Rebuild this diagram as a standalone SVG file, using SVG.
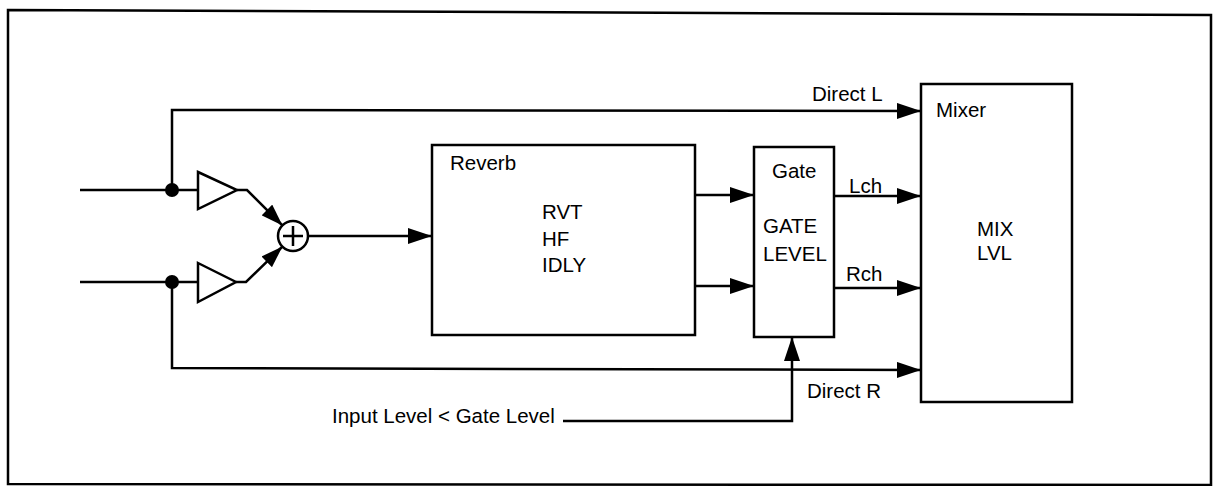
<svg xmlns="http://www.w3.org/2000/svg" width="1214" height="486" viewBox="0 0 1214 486">
<style>
.ln{fill:none;stroke:#000;stroke-width:2.5}
.bx{fill:#fff;stroke:#000;stroke-width:2.5}
.t{font-family:"Liberation Sans",Arial,sans-serif;font-size:20.5px;fill:#000}
</style>
<defs>
<marker id="ah" markerUnits="userSpaceOnUse" markerWidth="24" markerHeight="16" refX="24" refY="8" orient="auto">
<path d="M0,0 L24,8 L0,16 z" fill="#000"/>
</marker>
<marker id="ahs" markerUnits="userSpaceOnUse" markerWidth="22" markerHeight="15" refX="22" refY="7.5" orient="auto">
<path d="M0,0 L22,7.5 L0,15 z" fill="#000"/>
</marker>
</defs>
<rect width="1214" height="486" fill="#fff"/>
<path class="ln" d="M8,10 L1211,15 L1211,485 L8,484 Z"/>

<g id="connectors">
<path class="ln" d="M80,190 L198,190"/>
<path class="ln" d="M80,282 L198,282"/>
<path class="ln" d="M172,190 L172,110 L921,111" marker-end="url(#ah)"/>
<path class="ln" d="M172,282 L172,368 L921,370" marker-end="url(#ah)"/>
<path class="ln" d="M237,190 L247,190 L282.5,225.5" marker-end="url(#ahs)"/>
<path class="ln" d="M236,282 L246,282 L282.5,246.5" marker-end="url(#ahs)"/>
<path class="ln" d="M308,236 L432,236" marker-end="url(#ah)"/>
<path class="ln" d="M695,195 L754,195" marker-end="url(#ah)"/>
<path class="ln" d="M695,286 L754,286" marker-end="url(#ah)"/>
<path class="ln" d="M834,196 L921,196" marker-end="url(#ah)"/>
<path class="ln" d="M834,288 L921,288" marker-end="url(#ah)"/>
<path class="ln" d="M563,421 L792,421 L792,337" marker-end="url(#ah)"/>
<circle cx="172" cy="190" r="7" fill="#000"/>
<circle cx="172" cy="282" r="7" fill="#000"/>
</g>

<g id="amp1"><path class="bx" d="M198,172 L237,190 L198,209 Z"/></g>
<g id="amp2"><path class="bx" d="M198,263 L236,282 L198,302 Z"/></g>
<g id="sum">
<circle class="bx" cx="293" cy="236" r="15"/>
<path class="ln" d="M283,236 H303 M293,226 V246" stroke-width="2"/>
</g>

<g id="reverb">
<rect class="bx" x="432" y="145" width="263" height="190"/>
<text class="t" x="450" y="170">Reverb</text>
<text class="t" x="542" y="219">RVT</text>
<text class="t" x="542" y="246">HF</text>
<text class="t" x="542" y="272">IDLY</text>
</g>

<g id="gate">
<rect class="bx" x="754" y="147" width="80" height="190"/>
<text class="t" x="772" y="178">Gate</text>
<text class="t" x="763" y="233">GATE</text>
<text class="t" x="763" y="261">LEVEL</text>
</g>

<g id="mixer">
<rect class="bx" x="921" y="84" width="151" height="318"/>
<text class="t" x="936" y="117">Mixer</text>
<text class="t" x="977" y="236">MIX</text>
<text class="t" x="977" y="260">LVL</text>
</g>

<g id="labels">
<text class="t" x="812" y="101">Direct L</text>
<text class="t" x="807" y="398">Direct R</text>
<text class="t" x="849" y="193">Lch</text>
<text class="t" x="846" y="281">Rch</text>
<text class="t" x="332" y="423">Input Level &lt; Gate Level</text>
</g>
</svg>
